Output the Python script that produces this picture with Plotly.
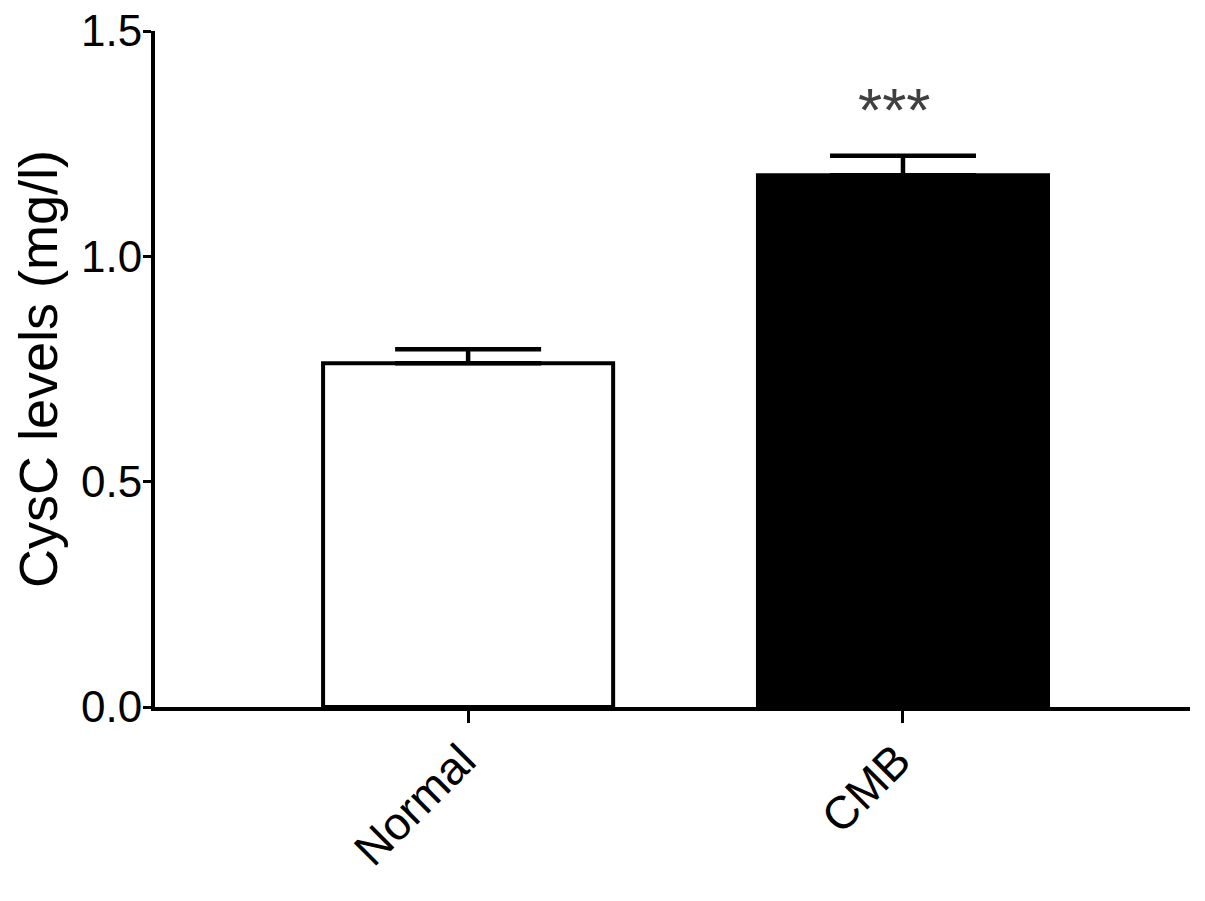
import plotly.graph_objects as go

# Data
groups = ['Normal', 'CMB']
means = [0.763, 1.180]
sem = [0.031, 0.043]
bar_colors = ['white', 'black']
sig_label = '***'

FONT = 'Liberation Sans, Arial, sans-serif'

fig = go.Figure()

fig.add_trace(go.Bar(
    x=groups,
    y=means,
    width=0.667,
    marker=dict(color=bar_colors, line=dict(color='black', width=4)),
    error_y=dict(
        type='data',
        array=sem,
        arrayminus=[0, 0],
        symmetric=False,
        color='black',
        thickness=4.5,
        width=73,
    ),
    showlegend=False,
))

# significance marker above CMB
fig.add_annotation(
    x=groups[1], y=1.325, xshift=-9,
    text=sig_label, showarrow=False,
    font=dict(size=62, color='#404040', family=FONT),
)

# page body adds an 8px offset, so the figure is sized and margined for it
fig.update_layout(
    width=1197,
    height=893,
    margin=dict(l=147, r=15, t=23, b=194),
    plot_bgcolor='white',
    paper_bgcolor='white',
    font=dict(family=FONT, color='black', size=46),
)

fig.update_xaxes(
    range=[-0.72, 1.66],
    automargin=False,
    showline=True, linecolor='black', linewidth=4,
    ticks='outside', ticklen=12, tickwidth=3, tickcolor='black',
    tickangle=-45,
    tickfont=dict(size=46),
    ticklabeloverflow='allow',
    ticklabelstandoff=-8,
    ticklabelshift=-6,
    showgrid=False, zeroline=False,
)

fig.update_yaxes(
    range=[0, 1.5],
    automargin=False,
    tickvals=[0, 0.5, 1.0, 1.5],
    tickformat='.1f',
    showline=True, linecolor='black', linewidth=4,
    ticks='outside', ticklen=8, tickwidth=3, tickcolor='black',
    tickfont=dict(size=44),
    ticklabeloverflow='allow',
    ticklabelstandoff=-8,
    title=dict(text='CysC levels (mg/l)', font=dict(size=54), standoff=14),
    showgrid=False, zeroline=False,
)

fig.write_html("out.html")
